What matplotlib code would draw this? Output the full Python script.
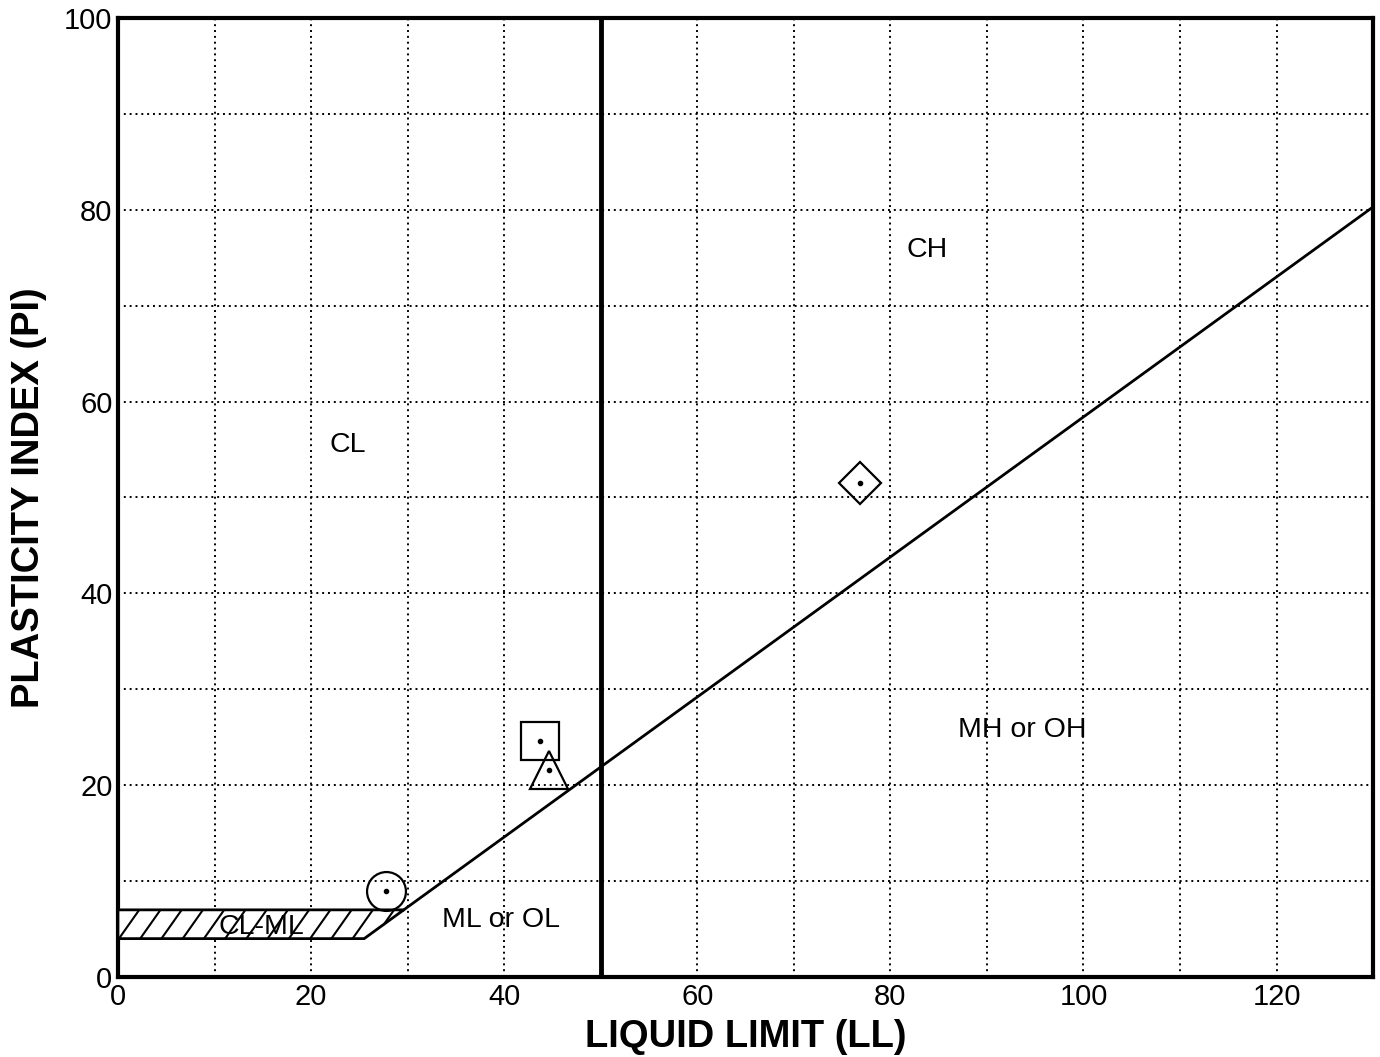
import matplotlib
matplotlib.use("Agg")
import matplotlib.pyplot as plt
from matplotlib.patches import Polygon
import numpy as np

plt.rcParams['font.family'] = ['Liberation Sans', 'DejaVu Sans']

# Data
sample_ll = [27.8, 43.7, 44.6, 76.9]
sample_pi = [9.0, 24.6, 21.6, 51.5]
sample_markers = ['o', 's', '^', 'D']
sample_sizes = [28, 27, 28, 21]

aline_ll = [29.6, 130]
aline_pi = [7.0, 80.3]
clml_ll = [0, 29.6, 25.5, 0]
clml_pi = [7, 7, 4, 4]
ll_boundary = 50

zone_labels = ['CL', 'CH', 'MH or OH', 'ML or OL', 'CL-ML']
zone_ll = [23.8, 83.8, 93.7, 39.7, 14.9]
zone_pi = [55.5, 75.8, 25.8, 5.9, 5.2]

x_ticks = [0, 20, 40, 60, 80, 100, 120]
y_ticks = [0, 20, 40, 60, 80, 100]

fig = plt.figure(figsize=(13.8, 10.57), dpi=100)
ax = fig.add_axes([0.0855, 0.0757, 0.9095, 0.9073])
ax.set_xlim(0, 130)
ax.set_ylim(0, 100)

# grid
for g in np.arange(10, 130, 10):
    ax.axvline(g, color='black', lw=1.4, ls=(0, (1, 2)), zorder=1)
for g in np.arange(10, 100, 10):
    ax.axhline(g, color='black', lw=1.4, ls=(0, (1, 2)), zorder=1)

# CL-ML hatched zone
poly = Polygon(list(zip(clml_ll, clml_pi)), closed=True, facecolor='white',
               edgecolor='black', lw=2, zorder=3)
ax.add_patch(poly)
hatch_step = 2.2
hatch_run = 2.1
lo, hi = min(clml_pi), max(clml_pi)
for k in np.arange(-hatch_run, max(clml_ll) + hatch_step, hatch_step):
    ln, = ax.plot([k, k + hatch_run], [lo, hi], color='black', lw=1.5, zorder=3.5)
    ln.set_clip_path(poly)

# A-line and LL=50 line
ax.plot(aline_ll, aline_pi, color='black', lw=2, zorder=4)
ax.axvline(ll_boundary, color='black', lw=3.5, zorder=4)

# samples
for x, y, m, s in zip(sample_ll, sample_pi, sample_markers, sample_sizes):
    ax.plot(x, y, marker=m, ms=s, mfc='none', mec='black', mew=1.6, ls='none', zorder=5)
    ax.plot(x, y, marker='o', ms=3, color='black', ls='none', zorder=6)

# zone labels
for t, x, y in zip(zone_labels, zone_ll, zone_pi):
    ax.text(x, y, t, fontsize=20.5, ha='center', va='center', zorder=7)

ax.set_xticks(x_ticks)
ax.set_yticks(y_ticks)
ax.tick_params(length=0, labelsize=21, pad=4)
for sp in ax.spines.values():
    sp.set_linewidth(3)

ax.set_xlabel('LIQUID LIMIT (LL)', fontsize=27.5, fontweight='bold', labelpad=6)
ax.set_ylabel('PLASTICITY INDEX (PI)', fontsize=27.5, fontweight='bold', labelpad=12)

fig.savefig('out.png', dpi=100)
